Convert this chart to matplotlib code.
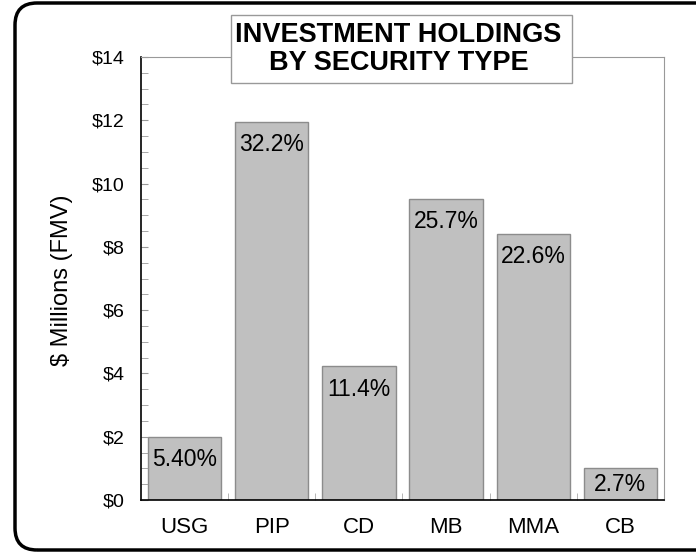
import matplotlib.pyplot as plt
from matplotlib.patches import FancyBboxPatch, Rectangle
from matplotlib.ticker import MultipleLocator, FuncFormatter

plt.rcParams['font.family'] = ['Liberation Sans', 'DejaVu Sans']

# data
types = ["USG", "PIP", "CD", "MB", "MMA", "CB"]
values = [2.0, 11.95, 4.22, 9.52, 8.42, 1.0]
shares = ["5.40%", "32.2%", "11.4%", "25.7%", "22.6%", "2.7%"]

fig = plt.figure(figsize=(6.96, 5.56), dpi=100)
ax = fig.add_axes([0.2026, 0.1007, 0.7514, 0.7968])

pos = list(range(len(types)))
bars = ax.bar(pos, values, width=0.84, color="#c0c0c0", edgecolor="#8c8c8c", linewidth=1)

for b, s in zip(bars, shares):
    xc = b.get_x() + b.get_width() / 2
    h = b.get_height()
    if h < 1.5:
        # too short for a label at the top, put it in the middle
        ax.text(xc, h / 2, s, ha="center", va="center", fontsize=16.5)
    else:
        ax.annotate(s, (xc, h), xytext=(0, -8), textcoords="offset points",
                    ha="center", va="top", fontsize=16.5)

ax.set_xlim(-0.5, len(types) - 0.5)
ax.set_ylim(0, 14)
ax.yaxis.set_major_locator(MultipleLocator(2))
ax.yaxis.set_minor_locator(MultipleLocator(0.5))
ax.yaxis.set_major_formatter(FuncFormatter(lambda v, p: "$%d" % v))
ax.set_xticks(pos)
ax.set_xticklabels(types)
ax.set_xticks([p + 0.5 for p in pos[:-1]], minor=True)

ax.tick_params(axis="y", which="both", direction="in", length=5, color="#999999",
               labelsize=14, pad=12)
ax.tick_params(axis="x", which="major", length=0, labelsize=16, pad=12)
ax.tick_params(axis="x", which="minor", direction="in", length=5, color="#aaaaaa")

ax.spines["left"].set_color("black")
ax.spines["bottom"].set_color("black")
ax.spines["left"].set_linewidth(1.2)
ax.spines["bottom"].set_linewidth(1.2)
ax.spines["top"].set_color("#999999")
ax.spines["right"].set_color("#999999")

ax.set_ylabel("$ Millions (FMV)", fontsize=17)
ax.yaxis.set_label_coords(-0.13, 0.497)

# title with its box
fig.patches.append(Rectangle((231 / 696, 1 - 83 / 556), 341 / 696, 68 / 556,
                             transform=fig.transFigure, facecolor="white",
                             edgecolor="#999999", linewidth=1, zorder=5))
fig.text(0.5726, 0.9119, "INVESTMENT HOLDINGS\nBY SECURITY TYPE", ha="center", va="center",
         fontsize=19.5, fontweight="bold", linespacing=1.1, zorder=6)

# rounded outer frame
frame = FancyBboxPatch((0.15, 0.06), 7.2, 5.47, boxstyle="round,pad=0,rounding_size=0.22",
                       transform=fig.dpi_scale_trans, facecolor="none", edgecolor="black",
                       linewidth=2.5, zorder=10)
fig.patches.append(frame)

fig.savefig("out.png", dpi=100)
